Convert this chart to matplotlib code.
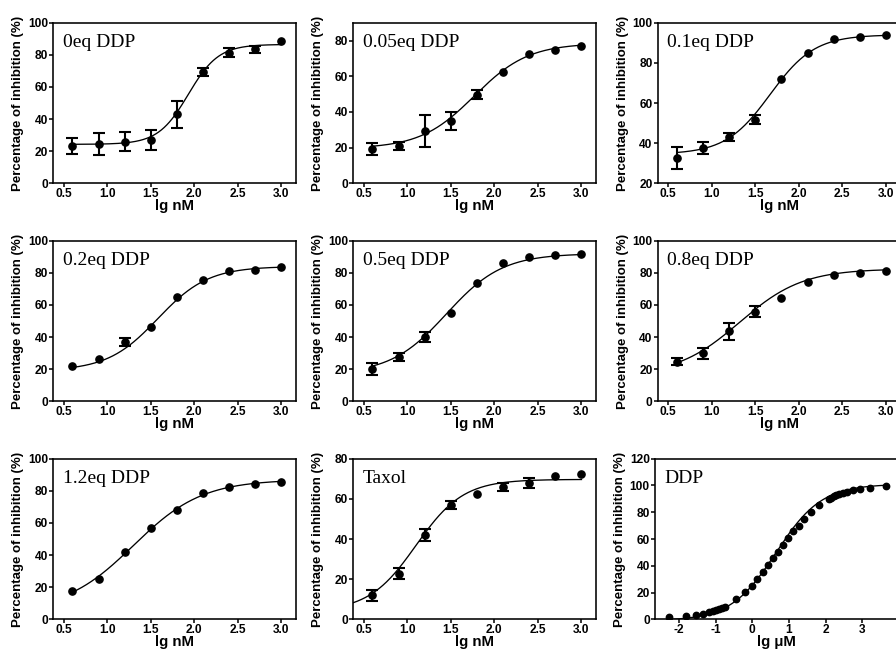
import numpy as np
import matplotlib
matplotlib.use("Agg")
import matplotlib.pyplot as plt
from matplotlib.ticker import FormatStrFormatter, FixedLocator

plt.rcParams['font.family'] = ['Liberation Sans', 'DejaVu Sans']
plt.rcParams['font.weight'] = 'bold'
plt.rcParams['axes.unicode_minus'] = False

# ---------------- data ----------------
panel_labels = ['0eq DDP', '0.05eq DDP', '0.1eq DDP',
                '0.2eq DDP', '0.5eq DDP', '0.8eq DDP',
                '1.2eq DDP', 'Taxol', 'DDP']

x_lg_nM = [0.6, 0.9, 1.2, 1.5, 1.8, 2.1, 2.4, 2.7, 3.0]

y_0eq    = [23.4, 24.5, 26.0, 27.0, 43.0, 69.3, 81.3, 83.4, 88.4]
e_0eq    = [5.0, 6.7, 6.0, 6.0, 8.5, 2.6, 2.8, 2.0, 0]
y_005eq  = [19.3, 21.0, 29.4, 35.0, 49.7, 62.5, 72.2, 74.8, 76.8]
e_005eq  = [3.3, 2.3, 8.9, 5.0, 2.4, 0, 0, 0, 0]
y_01eq   = [32.7, 37.4, 43.1, 51.7, 71.9, 85.1, 91.7, 92.7, 94.0]
e_01eq   = [5.6, 3.0, 2.0, 2.3, 0, 0, 0, 0, 0]
y_02eq   = [22.2, 26.3, 36.9, 46.4, 65.2, 75.6, 81.4, 82.0, 83.4]
e_02eq   = [0, 0, 2.4, 0, 0, 0, 0, 0, 0]
y_05eq   = [20.3, 27.5, 40.0, 55.1, 73.5, 86.1, 90.1, 91.1, 91.5]
e_05eq   = [3.8, 2.5, 3.2, 0, 0, 0, 0, 0, 0]
y_08eq   = [24.8, 30.0, 43.5, 55.9, 64.4, 74.3, 78.7, 79.7, 81.4]
e_08eq   = [2.0, 3.4, 5.0, 3.5, 0, 0, 0, 0, 0]
y_12eq   = [17.6, 25.3, 42.0, 57.1, 68.3, 78.5, 82.4, 84.5, 85.7]
e_12eq   = [0, 0, 0, 0, 0, 0, 0, 0, 0]
y_taxol  = [12.1, 22.8, 42.2, 57.0, 62.6, 65.7, 67.7, 71.4, 72.4]
e_taxol  = [2.7, 2.9, 3.0, 2.0, 0, 2.0, 2.5, 0, 0]

x_ddp_lg_uM = [-2.26, -1.81, -1.53, -1.34, -1.19, -1.07, -0.98, -0.90, -0.83,
               -0.74, -0.43, -0.19, -0.01, 0.14, 0.29, 0.43, 0.57, 0.70,
               0.83, 0.96, 1.10, 1.26, 1.42, 1.60, 1.83, 2.08, 2.14, 2.22,
               2.29, 2.37, 2.46, 2.58, 2.74, 2.94, 3.22, 3.65]
y_ddp = [1.5, 2.2, 3.0, 4.2, 5.4, 6.4, 7.1, 7.9, 8.6,
         9.4, 15.1, 20.3, 25.2, 29.9, 35.2, 40.5, 45.6, 50.7,
         55.9, 60.9, 65.8, 70.0, 75.2, 80.4, 85.6, 90.0, 91.0, 92.0,
         92.8, 93.8, 94.5, 95.5, 96.7, 97.3, 98.2, 99.5]

# four-parameter logistic fit
fit_bottom  = [24.3, 19.5, 34.5, 19.0, 17.0, 16.0, 5.0, 4.0, -1.0]
fit_top     = [86.5, 78.5, 94.0, 84.0, 92.0, 82.5, 87.0, 69.7, 101.0]
fit_logec50 = [1.93, 1.77, 1.67, 1.58, 1.45, 1.32, 1.30, 1.10, 0.65]
fit_hill    = [2.5, 1.4, 1.7, 1.5, 1.35, 1.2, 1.1, 1.6, 0.7]
curve_from  = [0.6, 0.6, 0.6, 0.6, 0.6, 0.6, 0.6, 0.38, -2.26]
curve_to    = [3.0, 3.0, 3.0, 3.0, 3.0, 3.0, 3.0, 3.0, 3.65]

y_limits = [(0, 100), (0, 90), (20, 100), (0, 100), (0, 100), (0, 100),
            (0, 100), (0, 80), (0, 120)]
y_ticks = [[0, 20, 40, 60, 80, 100], [0, 20, 40, 60, 80], [20, 40, 60, 80, 100],
           [0, 20, 40, 60, 80, 100], [0, 20, 40, 60, 80, 100], [0, 20, 40, 60, 80, 100],
           [0, 20, 40, 60, 80, 100], [0, 20, 40, 60, 80], [0, 20, 40, 60, 80, 100, 120]]
x_ticks_nM = [0.5, 1.0, 1.5, 2.0, 2.5, 3.0]
x_ticks_uM = [-2, -1, 0, 1, 2, 3]

series_y = [y_0eq, y_005eq, y_01eq, y_02eq, y_05eq, y_08eq, y_12eq, y_taxol, y_ddp]
series_e = [e_0eq, e_005eq, e_01eq, e_02eq, e_05eq, e_08eq, e_12eq, e_taxol, None]

# ---------------- layout ----------------
W, H = 896, 658
fig = plt.figure(figsize=(W / 100, H / 100), dpi=100)
col_left = [53.3, 353.3, 657.7]
row_top = [22.7, 240.7, 458.7]
aw, ah = 243.0, 160.7

for i in range(9):
    r, c = divmod(i, 3)
    left = col_left[c]
    if i == 8:
        left = 655.0
    ax = fig.add_axes([left / W, 1 - (row_top[r] + ah) / H, aw / W, ah / H])

    if i < 8:
        xs = np.array(x_lg_nM)
        ax.set_xlim(0.38, 3.17)
        ax.xaxis.set_major_locator(FixedLocator(x_ticks_nM))
        ax.xaxis.set_major_formatter(FormatStrFormatter('%.1f'))
        xlabel = 'lg nM'
        ms = 5.2
    else:
        xs = np.array(x_ddp_lg_uM)
        ax.set_xlim(-2.65, 3.97)
        ax.xaxis.set_major_locator(FixedLocator(x_ticks_uM))
        ax.xaxis.set_major_formatter(FormatStrFormatter('%d'))
        xlabel = 'lg μM'
        ms = 4.6
    ys = np.array(series_y[i])

    # fitted curve
    xc = np.linspace(curve_from[i], curve_to[i], 400)
    yc = fit_bottom[i] + (fit_top[i] - fit_bottom[i]) / (1 + 10 ** ((fit_logec50[i] - xc) * fit_hill[i]))
    ax.plot(xc, yc, color='black', lw=0.95, zorder=2)

    # error bars
    if series_e[i] is not None:
        es = np.array(series_e[i])
        m = es > 0
        if m.any():
            ax.errorbar(xs[m], ys[m], yerr=es[m], fmt='none', ecolor='black',
                        elinewidth=1.5, capsize=4.5, capthick=1.5, zorder=3)
    ax.plot(xs, ys, 'o', color='black', ms=ms, zorder=4)

    ax.set_ylim(*y_limits[i])
    ax.yaxis.set_major_locator(FixedLocator(y_ticks[i]))

    for s in ax.spines.values():
        s.set_linewidth(1.15)
    ax.tick_params(direction='out', length=2.7, width=1.1, labelsize=8.6)
    ax.tick_params(axis='x', pad=0.8)
    ax.tick_params(axis='y', pad=1.0)

    ax.set_ylabel('Percentage of inhibition (%)', fontsize=9.5, fontweight='bold')
    ax.yaxis.set_label_coords(-35.0 / aw, 0.5)
    ax.yaxis.label.set_verticalalignment('center')
    ax.set_xlabel(xlabel, fontsize=10.8, fontweight='bold')
    ax.xaxis.set_label_coords(0.5, -15.5 / ah)
    ax.xaxis.label.set_verticalalignment('top')

    ax.text(9.5 / aw, 1 - 24.0 / ah, panel_labels[i], transform=ax.transAxes,
            family=['Liberation Serif', 'DejaVu Serif'], fontweight='normal',
            fontsize=14, ha='left', va='baseline')

fig.savefig('out.png', dpi=100)
